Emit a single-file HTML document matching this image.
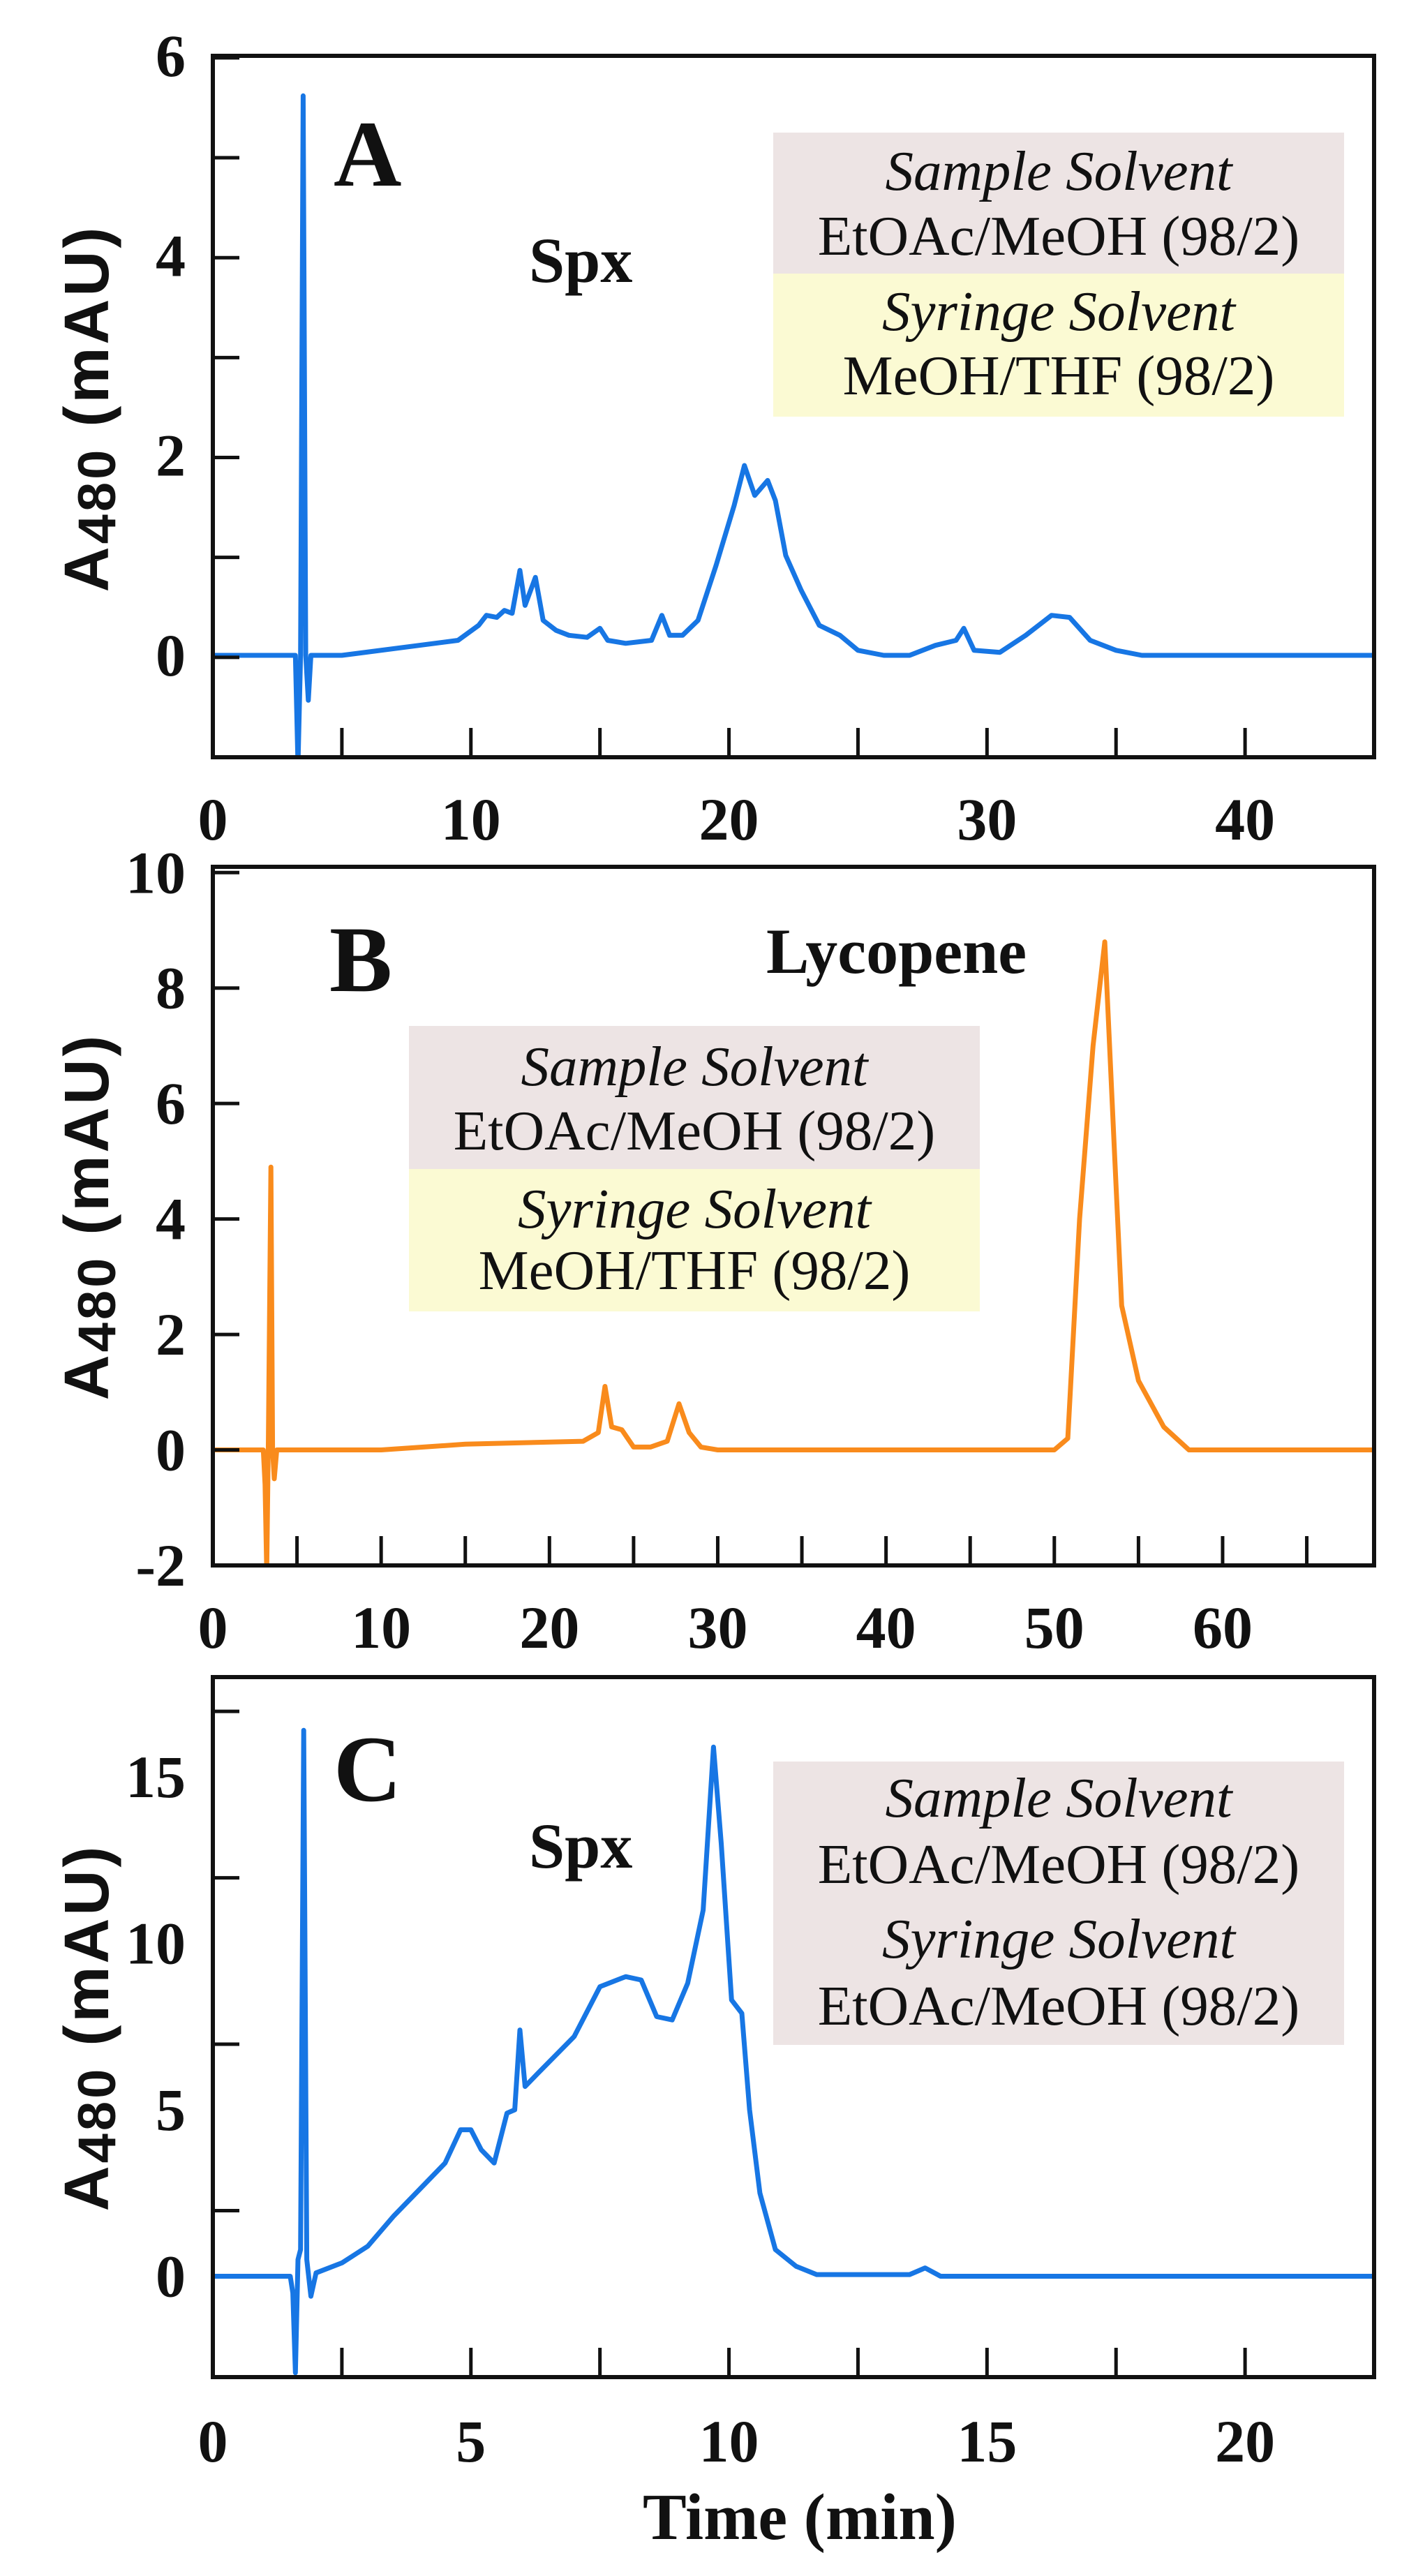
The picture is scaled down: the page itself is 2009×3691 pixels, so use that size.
<!DOCTYPE html>
<html><head><meta charset="utf-8"><style>
html,body{margin:0;padding:0;background:#fff}
svg{display:block}
.tk{font-family:"Liberation Serif",serif;font-weight:bold;font-size:86px;fill:#111}
.yt{font-family:"Liberation Sans",sans-serif;font-weight:bold;fill:#111}
.lg{font-family:"Liberation Serif",serif;font-size:81px;fill:#111}
.lb{font-family:"Liberation Serif",serif;font-weight:bold;fill:#111}
</style></head><body>
<svg id="fig" width="2009" height="3691" viewBox="0 0 2009 3691" xmlns="http://www.w3.org/2000/svg">
<rect width="2009" height="3691" fill="#fff"/>
<g>
<rect x="1108" y="190" width="818" height="202" fill="#ede4e4"/>
<rect x="1108" y="392" width="818" height="205" fill="#fbfad3"/>
<text class="lg" x="1517" y="272" text-anchor="middle" font-style="italic">Sample Solvent</text>
<text class="lg" x="1517" y="365" text-anchor="middle">EtOAc/MeOH (98/2)</text>
<text class="lg" x="1517" y="473" text-anchor="middle" font-style="italic">Syringe Solvent</text>
<text class="lg" x="1517" y="565" text-anchor="middle">MeOH/THF (98/2)</text>
</g>
<g>
<rect x="586" y="1470" width="818" height="205" fill="#ede4e4"/>
<rect x="586" y="1675" width="818" height="204" fill="#fbfad3"/>
<text class="lg" x="995" y="1555" text-anchor="middle" font-style="italic">Sample Solvent</text>
<text class="lg" x="995" y="1647" text-anchor="middle">EtOAc/MeOH (98/2)</text>
<text class="lg" x="995" y="1759" text-anchor="middle" font-style="italic">Syringe Solvent</text>
<text class="lg" x="995" y="1847" text-anchor="middle">MeOH/THF (98/2)</text>
</g>
<g>
<rect x="1108" y="2524" width="818" height="406" fill="#ede4e4"/>
<text class="lg" x="1517" y="2603" text-anchor="middle" font-style="italic">Sample Solvent</text>
<text class="lg" x="1517" y="2698" text-anchor="middle">EtOAc/MeOH (98/2)</text>
<text class="lg" x="1517" y="2805" text-anchor="middle" font-style="italic">Syringe Solvent</text>
<text class="lg" x="1517" y="2901" text-anchor="middle">EtOAc/MeOH (98/2)</text>
</g>
<text class="lb" x="478" y="266" font-size="135">A</text>
<text class="lb" x="758" y="404" font-size="92">Spx</text>
<text class="lb" x="472" y="1420" font-size="135">B</text>
<text class="lb" x="1098" y="1394" font-size="92">Lycopene</text>
<text class="lb" x="478" y="2580" font-size="135">C</text>
<text class="lb" x="758" y="2676" font-size="92">Spx</text>
<text class="lb" x="1146" y="3638" font-size="94" text-anchor="middle">Time (min)</text>
</svg>
<script>
const NS="http://www.w3.org/2000/svg";
const svg=document.getElementById('fig');
// Panel A data
const aTime=[0,3.2,3.3,3.4,3.5,3.6,3.7,3.8,5,8,9.5,10.3,10.6,11,11.3,11.6,11.9,12.1,12.5,12.8,13.3,13.8,14.5,15,15.3,16,17,17.4,17.7,18.2,18.8,19.5,20.2,20.6,21.0,21.5,21.8,22.2,22.8,23.5,24.3,25,26,27,28,28.8,29.1,29.5,30.5,31.5,32.5,33.2,34,35,36,45];
const aSignal=[0,0,-1.1,0,5.6,0,-0.45,0,0,0.1,0.15,0.3,0.4,0.38,0.45,0.42,0.85,0.5,0.78,0.35,0.25,0.2,0.18,0.27,0.15,0.12,0.15,0.4,0.2,0.2,0.35,0.9,1.5,1.9,1.6,1.75,1.55,1.0,0.65,0.3,0.2,0.05,0,0,0.1,0.15,0.27,0.05,0.03,0.2,0.4,0.38,0.15,0.05,0,0];
const aXTicks=[0,10,20,30,40];
const aYTicks=[0,2,4,6];
// Panel B data
const bTime=[0,3.0,3.1,3.2,3.3,3.45,3.55,3.65,3.8,10,15,22,22.9,23.3,23.7,24.3,25,26,27,27.7,28.3,29,30,50,50.8,51.5,52.3,53.0,53.6,54,55,56.5,58,69];
const bSignal=[0,0,-0.6,-2.1,0.2,4.9,0,-0.5,0,0,0.1,0.15,0.3,1.1,0.4,0.35,0.05,0.05,0.15,0.8,0.3,0.05,0,0,0.2,4,7,8.8,5,2.5,1.2,0.4,0,0];
const bXTicks=[0,10,20,30,40,50,60];
const bYTicks=[-2,0,2,4,6,8,10];
// Panel C data
const cTime=[0,1.5,1.55,1.6,1.65,1.7,1.76,1.82,1.9,2.0,2.5,3.0,3.5,4.0,4.5,4.8,5.0,5.2,5.45,5.7,5.85,5.95,6.05,6.3,7,7.5,8.0,8.3,8.6,8.9,9.2,9.5,9.7,9.85,10.05,10.25,10.4,10.6,10.9,11.3,11.7,13.5,13.8,14.1,22.5];
const cSignal=[0,0,-0.5,-2.9,0.5,0.8,16.4,0.5,-0.6,0.1,0.4,0.9,1.8,2.6,3.4,4.4,4.4,3.8,3.4,4.9,5.0,7.4,5.7,6.1,7.2,8.7,9.0,8.9,7.8,7.7,8.8,11,15.9,13,8.3,7.9,5,2.5,0.8,0.3,0.05,0.05,0.25,0,0];
const cXTicks=[0,5,10,15,20];
const cYTicks=[0,5,10,15];

function panel(o){
  const sx=v=>o.x0+(v-o.xmin)/(o.xmax-o.xmin)*(o.x1-o.x0);
  const sy=v=>o.y1-(v-o.ymin)/(o.ymax-o.ymin)*(o.y1-o.y0);
  const g=document.createElementNS(NS,'g');
  
  
  svg.appendChild(g);
  const cp=document.createElementNS(NS,'clipPath');
  cp.setAttribute('id','cp'+o.name);
  const cr=document.createElementNS(NS,'rect');
  cr.setAttribute('x',o.x0);cr.setAttribute('y',o.y0);cr.setAttribute('width',o.x1-o.x0);cr.setAttribute('height',o.y1-o.y0);
  cp.appendChild(cr);g.appendChild(cp);
  const p=document.createElementNS(NS,'path');
  
  
  p.setAttribute('d',o.t.map((t,i)=>(i?'L':'M')+sx(t).toFixed(1)+','+sy(o.v[i]).toFixed(1)).join(''));
  p.setAttribute('fill','none');p.setAttribute('stroke',o.color);p.setAttribute('stroke-width','7');
  p.setAttribute('stroke-linejoin','round');
  p.setAttribute('clip-path','url(#cp'+o.name+')');
  g.appendChild(p);
  const f=document.createElementNS(NS,'rect');
  
  
  f.setAttribute('x',o.x0);f.setAttribute('y',o.y0);f.setAttribute('width',o.x1-o.x0);f.setAttribute('height',o.y1-o.y0);
  f.setAttribute('fill','none');f.setAttribute('stroke','#111');f.setAttribute('stroke-width','6');
  g.appendChild(f);
  for(let v=o.xmin+o.xstep;v<o.xmax-1e-6;v+=o.xstep){
    const l=document.createElementNS(NS,'line');
    
    
    l.setAttribute('x1',sx(v));l.setAttribute('x2',sx(v));l.setAttribute('y1',o.y1);l.setAttribute('y2',o.y1-42);
    l.setAttribute('stroke','#111');l.setAttribute('stroke-width','5');g.appendChild(l);
  }
  for(let v=o.ymin+o.ystep;v<o.ymax-1e-6;v+=o.ystep){
    const l=document.createElementNS(NS,'line');
    
    
    l.setAttribute('x1',o.x0);l.setAttribute('x2',o.x0+38);l.setAttribute('y1',sy(v));l.setAttribute('y2',sy(v));
    l.setAttribute('stroke','#111');l.setAttribute('stroke-width','5');g.appendChild(l);
  }
  o.xt.forEach(v=>{
    const t=document.createElementNS(NS,'text');
    
    
    t.setAttribute('class','tk');t.setAttribute('x',sx(v));t.setAttribute('y',o.xly);t.setAttribute('text-anchor','middle');
    t.textContent=v;g.appendChild(t);
  });
  o.yt.forEach(v=>{
    const t=document.createElementNS(NS,'text');
    
    
    t.setAttribute('class','tk');t.setAttribute('x',266);t.setAttribute('y',sy(v)+29);t.setAttribute('text-anchor','end');
    t.textContent=v;g.appendChild(t);
  });
  const yt=document.createElementNS(NS,'text');
  
  
  yt.setAttribute('class','yt');yt.setAttribute('text-anchor','middle');yt.setAttribute('font-size','90');
  yt.setAttribute('letter-spacing','4');
  yt.setAttribute('transform','translate(155,'+o.ytc+') rotate(-90)');
  yt.innerHTML='A<tspan font-size="76" dy="10">480</tspan><tspan dy="-10"> (mAU)</tspan>';
  g.appendChild(yt);
}
panel({name:'panel-a',t:aTime,v:aSignal,xt:aXTicks,yt:aYTicks,x0:305,x1:1969,y0:80,y1:1085,xmin:0,xmax:45,ymin:-1.02,ymax:6,xstep:5,ystep:1,xly:1203,ytc:585,color:'#1776e4'});
panel({name:'panel-b',t:bTime,v:bSignal,xt:bXTicks,yt:bYTicks,x0:305,x1:1969,y0:1242,y1:2243,xmin:0,xmax:69,ymin:-2,ymax:10.1,xstep:5,ystep:2,xly:2361,ytc:1743,color:'#f98b1c'});
panel({name:'panel-c',t:cTime,v:cSignal,xt:cXTicks,yt:cYTicks,x0:305,x1:1969,y0:2403,y1:3406,xmin:0,xmax:22.5,ymin:-3.03,ymax:18,xstep:2.5,ystep:5,xly:3527,ytc:2905,color:'#1776e4'});
</script>
</body></html>
